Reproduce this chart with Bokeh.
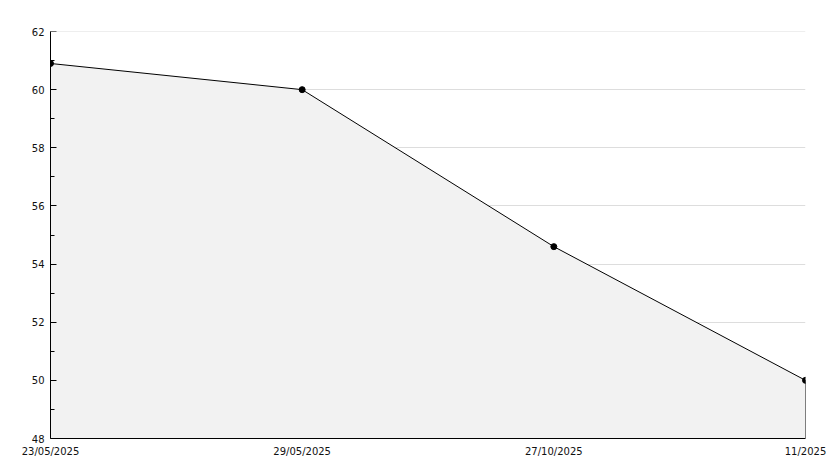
from bokeh.plotting import figure
from bokeh.models import Range1d, FixedTicker, Span
from bokeh.embed import file_html
from bokeh.resources import INLINE

dates = ["23/05/2025", "29/05/2025", "27/10/2025", "11/2025"]
values = [60.9, 60.0, 54.6, 50.0]
y_major = [48, 50, 52, 54, 56, 58, 60, 62]
y_minor = [49, 51, 53, 55, 57, 59, 61]
y_base = 48

xs = list(range(len(dates)))

p = figure(width=826, height=460, output_backend="svg", toolbar_location=None,
           x_range=Range1d(0, len(dates) - 1), y_range=Range1d(48, 62),
           min_border_left=50, min_border_right=21, min_border_top=31, min_border_bottom=22)
p.outline_line_color = None
p.background_fill_color = "white"

p.add_layout(Span(location=y_major[-1], dimension="width", line_color="#dddddd", line_width=1))

p.varea(x=xs, y1=[y_base] * len(xs), y2=values, fill_color="#f2f2f2")
p.line(xs, values, line_color="black", line_width=1)
p.segment(x0=[xs[-1]], y0=[y_base], x1=[xs[-1]], y1=[values[-1]], line_color="black", line_width=1)
p.scatter(xs, values, size=6, marker="circle", color="black")

p.xgrid.grid_line_color = None
p.ygrid.grid_line_color = "#dddddd"
p.ygrid.ticker = FixedTicker(ticks=y_major)

p.yaxis.ticker = FixedTicker(ticks=y_major, minor_ticks=y_minor)
p.yaxis.major_tick_in = 6
p.yaxis.major_tick_out = 0
p.yaxis.minor_tick_in = 4
p.yaxis.minor_tick_out = 0
p.yaxis.major_label_standoff = 6
p.yaxis.axis_line_color = "black"

p.xaxis.ticker = FixedTicker(ticks=xs)
p.xaxis.major_label_overrides = {i: d for i, d in enumerate(dates)}
p.xaxis.major_tick_in = 0
p.xaxis.major_tick_out = 0
p.xaxis.minor_tick_line_color = None
p.xaxis.major_label_standoff = 7
p.xaxis.axis_line_color = "black"

for ax in (p.xaxis, p.yaxis):
    ax.major_label_text_font = "DejaVu Sans"
    ax.major_label_text_font_size = "10px"
    ax.major_label_text_color = "#111111"

open("out.html", "w").write(file_html(p, INLINE))
